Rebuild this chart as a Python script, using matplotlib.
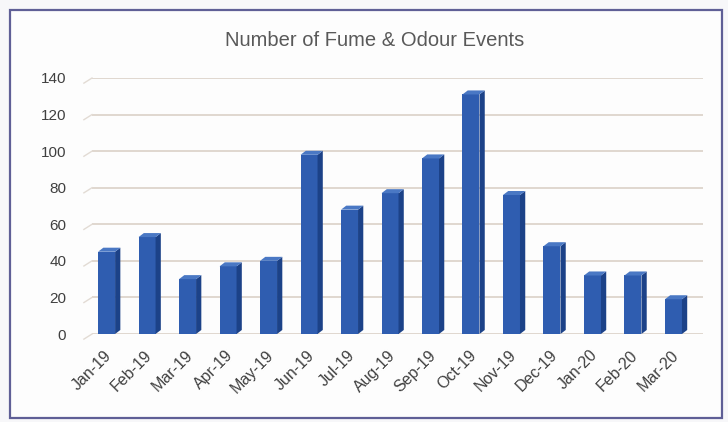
import matplotlib
matplotlib.use("Agg")
import matplotlib.pyplot as plt
from matplotlib.patches import Polygon, Rectangle
from matplotlib.transforms import ScaledTranslation

plt.rcParams["font.family"] = ["Liberation Sans", "DejaVu Sans"]

months = ["Jan-19", "Feb-19", "Mar-19", "Apr-19", "May-19", "Jun-19", "Jul-19",
          "Aug-19", "Sep-19", "Oct-19", "Nov-19", "Dec-19", "Jan-20", "Feb-20", "Mar-20"]
events = [45, 53, 30, 37, 40, 98, 68, 77, 96, 131, 76, 48, 32, 32, 19]
yticks = [0, 20, 40, 60, 80, 100, 120, 140]
title = "Number of Fume & Odour Events"

W, H = 728, 422
fig = plt.figure(figsize=(W / 100, H / 100), dpi=100)
fig.patch.set_facecolor("#f7f7f9")

# outer chart frame
fig.add_artist(Rectangle((10 / W, 1 - 418 / H), 712 / W, 408 / H,
                         transform=fig.transFigure, facecolor="#fdfdfd",
                         edgecolor="#5f5f96", linewidth=1.6, zorder=0))

left, right, top, bottom = 92, 703, 78, 334
ax = fig.add_axes([left / W, 1 - bottom / H, (right - left) / W, (bottom - top) / H])
ax.set_facecolor("none")
for s in ax.spines.values():
    s.set_visible(False)

x = list(range(len(months)))
front_w = 0.42
depth_x = 0.13
depth_y = 2.2

# gridlines with a 3D slant on the left
for t in yticks:
    ax.plot([-0.42, 14.67], [t, t], color="#ddd5cc", lw=1.3, zorder=1,
            solid_capstyle="butt")
    ax.plot([-0.62, -0.42], [t - 2.8, t], color="#e2dbd4", lw=1.0, zorder=1,
            clip_on=False)

front = "#2f5db0"
side = "#1c4288"
topc = "#4a78c4"
ax.bar([xi - 0.06 for xi in x], events, width=front_w, color=front,
       edgecolor="none", zorder=3)
for xi, v in zip(x, events):
    x0 = xi - 0.06 - front_w / 2
    x1 = xi - 0.06 + front_w / 2
    ax.add_patch(Polygon([(x1, 0), (x1 + depth_x, depth_y), (x1 + depth_x, v + depth_y), (x1, v)],
                         closed=True, facecolor=side, edgecolor="none", zorder=3))
    ax.add_patch(Polygon([(x0, v), (x0 + depth_x, v + depth_y), (x1 + depth_x, v + depth_y), (x1, v)],
                         closed=True, facecolor=topc, edgecolor="none", zorder=3))

ax.set_xlim(-0.42, 14.67)
ax.set_ylim(0, 140)
ax.set_yticks(yticks)
ax.set_yticklabels([str(t) for t in yticks], fontsize=11, color="#404040")
ax.tick_params(axis="y", length=0, pad=18.5)
ax.set_xticks(x)
ax.set_xticklabels(months, rotation=45, ha="right", rotation_mode="anchor",
                   fontsize=11.5, color="#404040")
ax.tick_params(axis="x", length=0, pad=9)
offset = ScaledTranslation(-5 / 100, -1 / 100, fig.dpi_scale_trans)
for lab in ax.get_xticklabels():
    lab.set_transform(lab.get_transform() + offset)

fig.text(375 / W, 1 - 40 / H, title, ha="center", va="center",
         fontsize=14.5, color="#595959")

fig.savefig("out.png", dpi=100, facecolor=fig.get_facecolor())
